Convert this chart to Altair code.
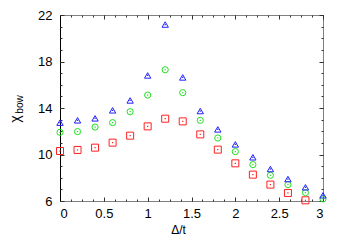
import altair as alt
import pandas as pd

delta = [0.0, 0.2, 0.4, 0.6, 0.8, 1.0, 1.2, 1.4, 1.6, 1.8, 2.0, 2.2, 2.4, 2.6, 2.8, 3.0]
chi_red = [10.30, 10.39, 10.59, 11.02, 11.62, 12.42, 13.08, 12.85, 11.73, 10.42,
           9.24, 8.27, 7.41, 6.69, 6.06]
chi_green = [11.91, 11.97, 12.36, 12.74, 13.68, 15.11, 17.29, 15.32, 12.94, 11.42,
             10.25, 9.13, 8.21, 7.41, 6.72, 6.18]
chi_blue = [12.74, 12.94, 13.11, 13.80, 14.65, 16.80, 21.18, 16.63, 13.74, 12.16,
            10.87, 9.76, 8.75, 7.89, 7.18, 6.49]

x_major = [0, 0.5, 1, 1.5, 2, 2.5, 3]
x_minor = [i * 0.125 for i in range(25)]
y_major = [6, 10, 14, 18, 22]
y_minor = list(range(6, 23))

W, H = 263, 186
FONT = "Liberation Sans"

red = pd.DataFrame({"x": delta[:len(chi_red)], "y": chi_red})
green = pd.DataFrame({"x": delta, "y": chi_green})
blue = pd.DataFrame({"x": delta, "y": chi_blue})

xs = alt.Scale(domain=[0, 3], nice=False, zero=False)
ys = alt.Scale(domain=[6, 22], nice=False, zero=False)


def tick_axis(orient, values, size, offset):
    return alt.Axis(orient=orient, values=values, labels=False, domain=False,
                    grid=False, title=None, tickSize=size, tickColor="#333333",
                    tickWidth=1, offset=offset)


def X(axis):
    return alt.X("x:Q", scale=xs, axis=axis)


def Y(axis):
    return alt.Y("y:Q", scale=ys, axis=axis)


ax_bottom = alt.Axis(orient="bottom", values=x_major, format="~g", domain=False,
                     ticks=False, grid=False, labelFont=FONT, labelFontSize=13,
                     labelColor="black", labelPadding=6, title="Δ/t",
                     titleFont=FONT, titleFontSize=12, titleFontWeight="normal",
                     titleColor="black", titleX=118, titleY=28,
                     titleBaseline="middle")
ax_left = alt.Axis(orient="left", values=y_major, domain=True, domainColor="black",
                   domainWidth=1, ticks=False, grid=False, labelFont=FONT,
                   labelFontSize=13, labelColor="black", labelPadding=8,
                   title="χ", titleFont=FONT, titleFontSize=14,
                   titleFontWeight="normal", titleColor="black", titleX=-45,
                   titleY=103.5, titleBaseline="middle", titleAngle=270)
ax_bow = alt.Axis(orient="left", labels=False, ticks=False, domain=False, grid=False,
                  title="bow", titleFont=FONT, titleFontSize=10,
                  titleFontWeight="normal", titleColor="black", titleX=-41,
                  titleY=89, titleBaseline="middle", titleAngle=270)

sq = alt.Chart(red).mark_point(shape="square", size=49, color="#ff2020",
                               strokeWidth=1, opacity=1).encode(
    x=X(ax_bottom), y=Y(ax_left))
ci = alt.Chart(green).mark_point(shape="circle", size=38, color="#20e020",
                                 strokeWidth=1, opacity=1).encode(
    x=X(tick_axis("top", x_major, 4, -H)), y=Y(tick_axis("right", y_major, 4, -W)))
tr = alt.Chart(blue).mark_point(shape="triangle-up", size=40, color="#2020ff",
                                strokeWidth=1, opacity=1).encode(
    x=X(tick_axis("top", x_minor, 2, -H)), y=Y(tick_axis("right", y_minor, 2, -W)))
top_major = alt.Chart(blue).mark_point(opacity=0).encode(
    x=X(tick_axis("bottom", x_major, 4, -H)), y=Y(tick_axis("left", y_major, 4, -W)))
top_minor = alt.Chart(blue).mark_point(opacity=0).encode(
    x=X(tick_axis("bottom", x_minor, 2, -H)), y=Y(tick_axis("left", y_minor, 2, -W)))
bow = alt.Chart(blue).mark_point(opacity=0).encode(x=X(None), y=Y(ax_bow))

dots_r = alt.Chart(red).mark_point(shape="square", size=1.5, filled=True,
                                   color="#ff2020", opacity=1).encode(x=X(None), y=Y(None))
dots_g = alt.Chart(green).mark_point(shape="square", size=1.5, filled=True,
                                     color="#20e020", opacity=1).encode(x=X(None), y=Y(None))
dots_b = alt.Chart(blue).mark_point(shape="square", size=1.5, filled=True,
                                    color="#2020ff", opacity=1).encode(x=X(None), y=Y(None))

chart = alt.layer(sq, ci, tr, top_major, top_minor, bow, dots_r, dots_g, dots_b).resolve_axis(
    x="independent", y="independent"
).properties(
    width=W, height=H,
    autosize=alt.AutoSizeParams(type="none"),
    padding={"left": 52, "top": 7, "right": 15, "bottom": 38},
    background="white",
).configure_view(stroke="#808080", strokeWidth=1)

chart.save("out.html", embed_options={"renderer": "svg", "actions": False})
